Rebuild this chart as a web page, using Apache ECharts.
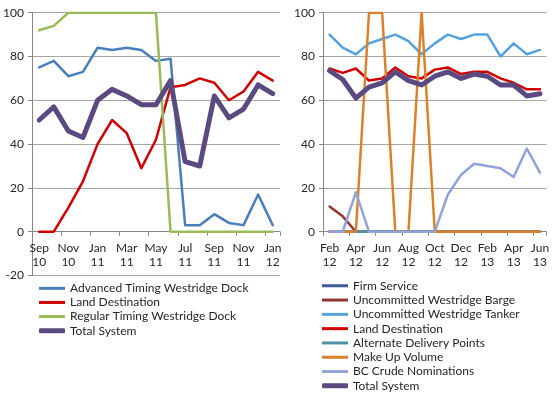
<!DOCTYPE html>
<html>
<head>
<meta charset="utf-8">
<script src="https://cdn.jsdelivr.net/npm/echarts@6/dist/echarts.min.js"></script>
<style>
html,body{margin:0;padding:0;background:#fff;}
#c{width:552px;height:394px;}
</style>
</head>
<body>
<div id="c"></div>
<script>
// ---- Left panel data ----
var leftCats = ['Sep\n10','Oct\n10','Nov\n10','Dec\n10','Jan\n11','Feb\n11','Mar\n11','Apr\n11','May\n11','Jun\n11','Jul\n11','Aug\n11','Sep\n11','Oct\n11','Nov\n11','Dec\n11','Jan\n12'];
var advancedTiming = [75,78,71,73,84,83,84,83,78,79,3,3,8,4,3,17,3];
var landLeft = [0,0,11,23,40,51,45,29,42,66,67,70,68,60,64,73,69];
var regularTiming = [92,94,100,100,100,100,100,100,100,0,0,0,0,0,0,0,0];
var totalLeft = [51,57,46,43,60,65,62,58,58,69,32,30,62,52,56,67,63];
var leftTicks = [-20,0,20,40,60,80,100];

// ---- Right panel data ----
var rightCats = ['Feb\n12','Mar\n12','Apr\n12','May\n12','Jun\n12','Jul\n12','Aug\n12','Sep\n12','Oct\n12','Nov\n12','Dec\n12','Jan\n13','Feb\n13','Mar\n13','Apr\n13','May\n13','Jun\n13'];
var firmService = [0,0,0,0,0,0,0,0,0,0,0,0,0,0,0,0,0];
var bargeUncommitted = [11.5,7,0,0,0,0,0,0,0,0,0,0,0,0,0,0,0];
var tankerUncommitted = [90,84,81,86,88,90,87,81,86,90,88,90,90,80,86,81,83];
var landRight = [74.5,72.5,74.5,69,70,75,71,70,74,75,72,73,73,70,68,65,65];
var alternateDelivery = [0,0,0,0,0,0,0,0,0,0,0,0,0,0,0,0,0];
var makeUpVolume = [0,0,0,100,100,0,0,100,0,0,0,0,0,0,0,0,0];
var bcCrude = [0,0,18,0,0,0,0,0,0,17,26,31,30,29,25,38,27];
var totalRight = [73.5,69.5,61,66,68,73,69,67,71,73,70,72,71,67,67,62,63];
var rightTicks = [0,20,40,60,80,100];

var FONT = 'Lato, "Open Sans", sans-serif';
var chart = echarts.init(document.getElementById('c'), null, {renderer:'canvas'});

function xAxis(gi, cats, offset){
  return {
    type:'category', gridIndex:gi, data:cats, boundaryGap:true, position:'bottom', offset:offset,
    axisLine:{show:true, onZero:false, lineStyle:{color:'#868686', width:1}},
    axisTick:{show:true, interval:1, length:4, inside:false, lineStyle:{color:'#868686'}},
    axisLabel:{interval:1, color:'#262626', fontFamily:FONT, fontSize:12, lineHeight:14.5, margin:9},
    splitLine:{show:false}
  };
}
function yAxis(gi, mn, mx){
  return {
    type:'value', gridIndex:gi, min:mn, max:mx, interval:20,
    axisLine:{show:true, lineStyle:{color:'#868686'}},
    axisTick:{show:true, length:4, lineStyle:{color:'#868686'}},
    axisLabel:{color:'#262626', fontFamily:FONT, fontSize:12, margin:8},
    splitLine:{show:true, lineStyle:{color:'#a6a6a6', width:1}}
  };
}
function ln(name, xi, data, color, w, z){
  return {name:name, type:'line', xAxisIndex:xi, yAxisIndex:xi, data:data, symbol:'none',
    lineStyle:{color:color, width:w, join:'round', cap:'round'}, itemStyle:{color:color}, z:z||2, animation:false};
}

function legend(names, left, top, h, icon, fs, lh){
  return {orient:'vertical', left:left, top:top, itemWidth:26, itemHeight:h, itemGap:0,
    icon:icon, data:names, selectedMode:false, padding:0,
    textStyle:{color:'#262626', fontFamily:FONT, fontSize:fs, lineHeight:lh}};
}

chart.setOption({
  animation:false,
  grid:[
    {left:30, top:12.7, width:250, height:262.8, containLabel:false},
    {left:323, top:12.7, width:226.7, height:219, containLabel:false}
  ],
  xAxis:[xAxis(0, leftCats, -43.8), xAxis(1, rightCats, 0)],
  yAxis:[yAxis(0, -20, 100), yAxis(1, 0, 100)],
  legend:[
    legend(['Advanced Timing Westridge Dock','Land Destination','Regular Timing Westridge Dock'], 39, 281.3, 3, 'rect', 12, 14.1),
    legend(['Total System'], 39, 323.6, 5, 'roundRect', 12, 14.1),
    legend(['Firm Service','Uncommitted Westridge Barge','Uncommitted Westridge Tanker','Land Destination ','Alternate Delivery Points','Make Up Volume','BC Crude Nominations'], 322, 278.6, 3, 'rect', 12, 14.3),
    legend(['Total System '], 322, 378.7, 5, 'roundRect', 12, 14.3)
  ],
  series:[
    ln('Advanced Timing Westridge Dock',0,advancedTiming,'#4A7EBB',2.5),
    ln('Land Destination',0,landLeft,'#D00000',2.5),
    ln('Regular Timing Westridge Dock',0,regularTiming,'#9BBB59',2.5),
    ln('Total System',0,totalLeft,'#5B4A7F',5),
    ln('Firm Service',1,firmService,'#3E5A99',2.5),
    ln('Uncommitted Westridge Barge',1,bargeUncommitted,'#943634',2.5),
    ln('Uncommitted Westridge Tanker',1,tankerUncommitted,'#58A2DC',2.5),
    ln('Land Destination ',1,landRight,'#D00000',2.5),
    ln('Alternate Delivery Points',1,alternateDelivery,'#4F8FA6',2.5),
    ln('Make Up Volume',1,makeUpVolume,'#D9822B',2.5),
    ln('BC Crude Nominations',1,bcCrude,'#91A3D6',2.5),
    ln('Total System ',1,totalRight,'#5B4A7F',5)
  ]
});
</script>
</body>
</html>
